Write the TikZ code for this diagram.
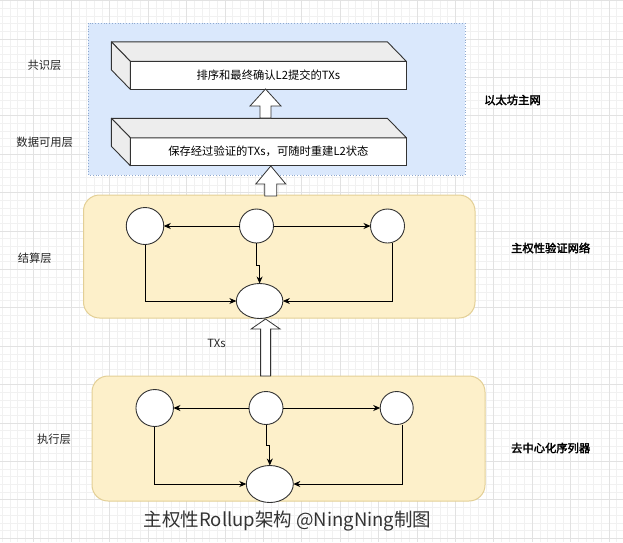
\documentclass[tikz,border=0pt]{standalone}
\usepackage{fontspec}
\setmainfont{Noto Sans CJK SC}[AutoFakeBold=2.5]
\usetikzlibrary{shapes.geometric,arrows.meta}
\definecolor{gridmaj}{HTML}{E2E2E2}
\definecolor{gridmin}{HTML}{F1F1F1}
\definecolor{bluefill}{HTML}{DAE8FC}
\definecolor{bluedraw}{HTML}{8FA9CF}
\definecolor{yelfill}{HTML}{FDF0CA}
\definecolor{yeldraw}{HTML}{E3CF95}
\definecolor{facegray}{HTML}{EDEDED}
\definecolor{edgegray}{HTML}{333333}
\newcommand{\hollowarrow}[6]{%
  \draw[harrow] (#1,#2) -- (#1+#5,#3) -- (#1+#6,#3) -- (#1+#6,#4) -- (#1-#6,#4) -- (#1-#6,#3) -- (#1-#5,#3) -- cycle;}
\tikzset{
  harrow/.style={draw=edgegray, line width=0.8pt, fill=white, line join=miter},
  front/.style={draw=edgegray, line width=0.9pt, fill=white, minimum width=276pt, minimum height=28pt, inner sep=0pt, outer sep=0pt, font=\fontsize{11.3}{13}\selectfont},
  side/.style={draw=edgegray, line width=0.9pt, fill=facegray, line join=round},
  layerbox/.style={draw=yeldraw, line width=1pt, fill=yelfill, rounded corners=16pt},
  vnode/.style={ellipse, draw=edgegray, line width=0.9pt, fill=white, inner sep=0pt, outer sep=0pt},
  conn/.style={draw=black, line width=0.8pt, -{Stealth[length=7pt,width=6pt]}},
  lbl/.style={font=\fontsize{11.3}{13}\selectfont, text=black!85},
  blbl/.style={font=\fontsize{11.3}{13}\selectfont\bfseries, text=black},
}
\begin{document}
\begin{tikzpicture}[x=1pt,y=-1pt]
\useasboundingbox (0,0) rectangle (623,542);
\fill[white] (0,0) rectangle (623,542);
% background grid
\begin{scope}
  \clip (0,0) rectangle (623,542);
  \foreach \i in {0,...,85} {
    \draw[gridmin, line width=0.5pt] ({-5.5+7.68*\i},0) -- ({-5.5+7.68*\i},542);
    \draw[gridmin, line width=0.5pt] (0,{0.5+7.68*\i}) -- (623,{0.5+7.68*\i});
  }
  \foreach \i in {0,...,17} {
    \draw[gridmaj, line width=0.6pt] ({-5.5+38.4*\i},0) -- ({-5.5+38.4*\i},542);
    \draw[gridmaj, line width=0.6pt] (0,{0.5+38.4*\i}) -- (623,{0.5+38.4*\i});
  }
\end{scope}
% Ethereum mainnet box
\draw[fill=bluefill, draw=bluedraw, line width=0.8pt, dotted] (88,23) rectangle (465,175);
% cuboids
\node[front] (cons) at (268.4,75.4) {排序和最终确认L2提交的TXs};
\draw[side] (cons.north west) -- ++(-19,-19.5) -- ++(276,0) -- (cons.north east) -- cycle;
\draw[side] (cons.north west) -- ++(-19,-19.5) -- ++(0,28) -- (cons.south west) -- cycle;
\node[front] (da) at (268.4,151.8) {保存经过验证的TXs，可随时重建L2状态};
\draw[side] (da.north west) -- ++(-19,-19.5) -- ++(276,0) -- (da.north east) -- cycle;
\draw[side] (da.north west) -- ++(-19,-19.5) -- ++(0,28) -- (da.south west) -- cycle;
% layer boxes
\draw[layerbox] (83.5,195) rectangle (475,318);
\draw[layerbox] (92,376) rectangle (485,501);
% settlement network
\node[vnode, minimum width=37.5pt, minimum height=37pt] (sL) at (145,226) {};
\node[vnode, minimum width=34pt, minimum height=34pt] (sM) at (256.5,226) {};
\node[vnode, minimum width=34pt, minimum height=34pt] (sR) at (387.5,226) {};
\node[vnode, minimum width=46.5pt, minimum height=35pt] (sB) at (259.6,301) {};
\draw[conn] (sM) -- (sL);
\draw[conn] (sM) -- (sR);
\draw[conn] (sM.south) -- ++(0,22) -| (sB.north);
\draw[conn] (sL.south) |- (sB.west);
\draw[conn] ([xshift=5pt]sR.south) |- (sB.east);
% execution network
\node[vnode, minimum width=37.5pt, minimum height=37pt] (eL) at (154.7,408) {};
\node[vnode, minimum width=34pt, minimum height=33pt] (eM) at (266,408) {};
\node[vnode, minimum width=33pt, minimum height=33pt] (eR) at (396.7,408) {};
\node[vnode, minimum width=47pt, minimum height=37pt] (eB) at (269.8,484) {};
\draw[conn] (eM) -- (eL);
\draw[conn] (eM) -- (eR);
\draw[conn] (eM.south) -- ++(0,21) -| (eB.north);
\draw[conn] (eL.south) |- (eB.west);
\draw[conn] ([xshift=6pt]eR.south) |- (eB.east);
% hollow arrows
\hollowarrow{265.5}{89}{106}{118}{15.5}{5.5}
\hollowarrow{270.8}{166}{184}{196}{15}{6}
\hollowarrow{265.6}{319}{329}{376}{14.5}{5}
% labels
\node[lbl] (l1) at (44.5,65) {共识层};
\node[lbl] (l2) at (44.7,142) {数据可用层};
\node[blbl] (l3) at (512.5,100) {以太坊主网};
\node[lbl] (l4) at (34.8,258) {结算层};
\node[blbl] (l5) at (550.7,248) {主权性验证网络};
\node[lbl] (l6) at (216.5,343) {TXs};
\node[lbl] (l7) at (54,439) {执行层};
\node[blbl] (l8) at (550.7,448) {去中心化序列器};
\node[font=\fontsize{18.5}{22}\selectfont, text=black!80] (title) at (287.5,521) {主权性Rollup架构 @NingNing制图};
\end{tikzpicture}
\end{document}
